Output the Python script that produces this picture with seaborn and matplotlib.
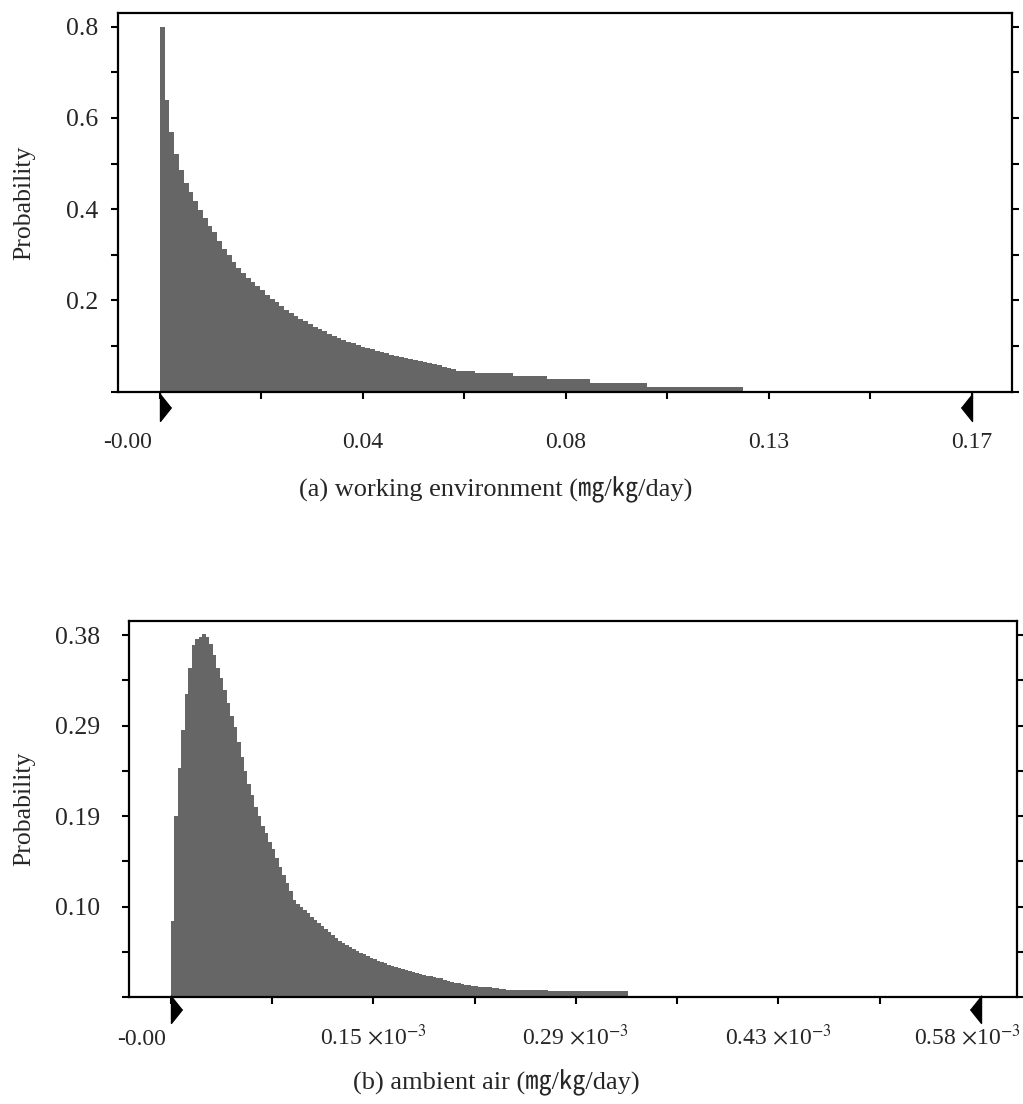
import pandas as pd
import matplotlib
matplotlib.use("Agg")
import matplotlib.pyplot as plt
import matplotlib.transforms as mtransforms
import seaborn as sns

# -----------------------------
# Data
# -----------------------------

# (a) working environment, bins of 0.001 mg/kg/day starting at 0
top_start = 0.0
top_bin_width = 0.001
top_prob = [0.800, 0.640, 0.570, 0.520, 0.485, 0.458, 0.437, 0.418, 0.398, 0.380,
            0.364, 0.349, 0.330, 0.313, 0.300, 0.285, 0.272, 0.261, 0.250, 0.240,
            0.231, 0.222, 0.213, 0.204, 0.196, 0.188, 0.180, 0.173, 0.166, 0.160,
            0.154, 0.148, 0.142, 0.137, 0.132, 0.127, 0.122, 0.118, 0.114, 0.110,
            0.106, 0.102, 0.099, 0.096, 0.093, 0.090, 0.087, 0.084, 0.081, 0.078,
            0.076, 0.074, 0.072, 0.069, 0.067, 0.065, 0.063, 0.061, 0.058, 0.055,
            0.052, 0.049] + [0.046] * 4 + [0.040] * 8 + [0.034] * 7 + \
           [0.027] * 9 + [0.020] * 12 + [0.011] * 20
top_ticks = [0.0, 0.0425, 0.085, 0.1275, 0.17]
top_tick_labels = ["-0.00", "0.04", "0.08", "0.13", "0.17"]
top_yticks = [0.2, 0.4, 0.6, 0.8]
top_ytick_labels = ["0.2", "0.4", "0.6", "0.8"]

# (b) ambient air, x in units of 1e-3 mg/kg/day, bins of 0.0025
bot_start = 0.0
bot_bin_width = 0.0025
bot_prob = [0.080, 0.190, 0.240, 0.280, 0.318, 0.345, 0.370, 0.376, 0.378, 0.381,
            0.378, 0.371, 0.359, 0.345, 0.335, 0.322, 0.309, 0.295, 0.283, 0.268,
            0.252, 0.237, 0.224, 0.212, 0.200, 0.190, 0.180, 0.172, 0.163, 0.155,
            0.146, 0.137, 0.128, 0.120, 0.111, 0.102, 0.098, 0.094, 0.091, 0.088,
            0.084, 0.081, 0.078, 0.075, 0.071, 0.068, 0.065, 0.062, 0.059, 0.057,
            0.055, 0.052, 0.050, 0.048, 0.046, 0.045, 0.043, 0.041, 0.040, 0.038,
            0.037, 0.036, 0.034, 0.033, 0.031, 0.030, 0.029, 0.028, 0.027, 0.026,
            0.025, 0.024, 0.023, 0.022, 0.022, 0.021, 0.020, 0.020, 0.018, 0.017,
            0.016, 0.015, 0.015, 0.014, 0.013, 0.013, 0.012, 0.012, 0.011, 0.011,
            0.010, 0.010, 0.009, 0.009, 0.0085, 0.0085] + [0.0075] * 12 + [0.006] * 23
bot_ticks = [0.0, 0.145, 0.29, 0.435, 0.58]
bot_tick_labels = ["-0.00", "0.15 $\\times$10$^{-3}$", "0.29 $\\times$10$^{-3}$",
                   "0.43 $\\times$10$^{-3}$", "0.58 $\\times$10$^{-3}$"]
bot_yticks = [0.095, 0.19, 0.285, 0.38]
bot_ytick_labels = ["0.10", "0.19", "0.29", "0.38"]

# -----------------------------
# Style
# -----------------------------
sns.set_theme(style="ticks")
plt.rcParams["font.family"] = ["Liberation Serif", "Noto Sans CJK KR"]
plt.rcParams["mathtext.fontset"] = "stix"

bar_color = "#666666"
fig = plt.figure(figsize=(10.23, 11.04), dpi=100)
ax1 = fig.add_axes([0.1153, 0.6452, 0.8739, 0.343])
ax2 = fig.add_axes([0.1261, 0.0969, 0.868, 0.3408])

flag_right = [(0, 1), (0, -1), (0.8, 0)]
flag_left = [(0, 1), (0, -1), (-0.8, 0)]


def shift(label, dx_px):
    off = mtransforms.ScaledTranslation(dx_px / 100, 0, fig.dpi_scale_trans)
    label.set_transform(label.get_transform() + off)


def draw_panel(ax, start, width, probs, xlim, ylim, xticks, xlabels, yticks, ylabels,
               xpad, ypad, flag_y, ylab_x):
    edges = [start + width * k for k in range(len(probs) + 1)]
    df = pd.DataFrame({"x": [e + width / 2 for e in edges[:-1]], "p": probs})
    sns.histplot(data=df, x="x", weights="p", bins=edges, element="step", fill=True,
                 color=bar_color, alpha=1, linewidth=0, ax=ax)
    ax.set_xlim(*xlim)
    ax.set_ylim(*ylim)

    ax.set_xticks(xticks)
    ax.set_xticklabels(xlabels, fontsize=17)
    xminor = [(a + b) / 2 for a, b in zip(xticks[:-1], xticks[1:])]
    ax.set_xticks(xminor, minor=True)

    ystep = yticks[0] / 2
    ax.set_yticks([0] + [ystep * k for k in range(1, 2 * len(yticks) + 1, 2)], minor=True)
    ax.set_yticks(yticks)
    ax.set_yticklabels(ylabels, fontsize=18.5)

    ax.tick_params(axis="both", which="both", direction="out", length=5, width=1.5,
                   color="black", right=True, labelright=False)
    ax.tick_params(axis="x", which="major", pad=xpad)
    ax.tick_params(axis="y", which="major", pad=ypad)

    for s in ax.spines.values():
        s.set_linewidth(1.6)
        s.set_color("black")

    ax.set_xlabel("")
    ax.set_ylabel("Probability", fontsize=18.5)
    ax.yaxis.set_label_coords(ylab_x, 0.5)

    # min / max flags under the axis
    trans = ax.get_xaxis_transform()
    ax.plot([xticks[0]], [flag_y], marker=flag_right, markersize=20, color="black",
            transform=trans, clip_on=False, linestyle="none")
    ax.plot([xticks[-1]], [flag_y], marker=flag_left, markersize=20, color="black",
            transform=trans, clip_on=False, linestyle="none")


draw_panel(ax1, top_start, top_bin_width, top_prob, (-0.00879, 0.17838), (0, 0.83),
           top_ticks, top_tick_labels, top_yticks, top_ytick_labels,
           xpad=24, ypad=9, flag_y=-0.040, ylab_x=-0.093)

draw_panel(ax2, bot_start, bot_bin_width, bot_prob, (-0.0298, 0.6057), (0, 0.395),
           bot_ticks, bot_tick_labels, bot_yticks, bot_ytick_labels,
           xpad=29.5, ypad=16, flag_y=-0.032, ylab_x=-0.106)

# "-0.00" sits left of its tick in the reference
top_labels = ax1.get_xticklabels()
top_labels[0].set_ha("right")
shift(top_labels[0], -8)

bot_labels = ax2.get_xticklabels()
for lbl in bot_labels:
    lbl.set_va("baseline")
bot_labels[0].set_ha("right")
shift(bot_labels[0], -5)
bot_labels[-1].set_ha("right")
shift(bot_labels[-1], 40)

fig.text(0.485, 0.556, "(a) working environment (㎎/㎏/day)", ha="center", va="center",
         fontsize=19)
fig.text(0.485, 0.019, "(b) ambient air (㎎/㎏/day)", ha="center", va="center",
         fontsize=19)

fig.savefig("out.png", dpi=100)
